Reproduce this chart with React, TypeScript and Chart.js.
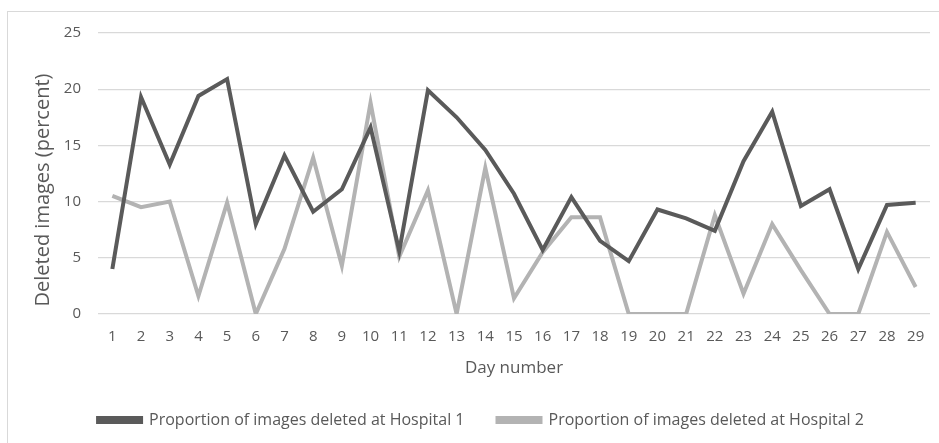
import React, { useEffect, useRef } from "react";
import { Chart, registerables } from "chart.js";

Chart.register(...registerables);

const days = ["1","2","3","4","5","6","7","8","9","10","11","12","13","14","15","16","17","18","19","20","21","22","23","24","25","26","27","28","29"];
const hospital1 = [4.0, 19.3, 13.3, 19.4, 20.9, 8.0, 14.1, 9.1, 11.1, 16.6, 5.6, 19.9, 17.5, 14.6, 10.7, 5.7, 10.4, 6.5, 4.7, 9.3, 8.5, 7.4, 13.6, 18.0, 9.6, 11.1, 4.0, 9.7, 9.9];
const hospital2 = [10.5, 9.5, 10.0, 1.6, 9.9, 0, 5.8, 13.9, 4.3, 18.8, 5.1, 11.0, 0, 13.0, 1.4, 5.5, 8.6, 8.6, 0, 0, 0, 8.8, 1.8, 8.0, 3.9, 0, 0, 7.3, 2.4];
const seriesNames = ["Proportion of images deleted at Hospital 1", "Proportion of images deleted at Hospital 2"];
const yTitle = "Deleted images (percent)";
const xTitle = "Day number";

const FONT = "'Open Sans', sans-serif";
const TEXT = "#595959";

const layoutTweaks = {
  id: "layoutTweaks",
  afterLayout(chart: any) {
    const lg = chart.legend;
    if (lg) {
      lg.left += 16;
      lg.right += 16;
    }
  },
  afterDraw(chart: any) {
    const ctx = chart.ctx;
    ctx.save();
    ctx.translate(43, 190);
    ctx.rotate(-Math.PI / 2);
    ctx.font = `20px ${FONT}`;
    ctx.fillStyle = TEXT;
    ctx.textAlign = "center";
    ctx.textBaseline = "middle";
    ctx.fillText(yTitle, 0, 0);
    ctx.restore();
  },
};

export default function App() {
  const ref = useRef<HTMLCanvasElement | null>(null);
  useEffect(() => {
    document.body.style.margin = "0";
    const ctx = ref.current!;
    const chart = new Chart(ctx, {
      type: "line",
      data: {
        labels: days,
        datasets: [
          { label: seriesNames[0], data: hospital1, borderColor: "#5a5a5a", backgroundColor: "#5a5a5a", borderWidth: 4, pointRadius: 0, tension: 0 },
          { label: seriesNames[1], data: hospital2, borderColor: "#b3b3b3", backgroundColor: "#b3b3b3", borderWidth: 4, pointRadius: 0, tension: 0 },
        ],
      },
      options: {
        animation: false,
        responsive: false,
        layout: { padding: { left: 0, right: 9, top: 33, bottom: 5 } },
        plugins: {
          tooltip: { enabled: false },
          legend: {
            position: "bottom",
            labels: { boxWidth: 43, boxHeight: 4, color: TEXT, font: { family: FONT, size: 16 }, padding: 33 },
          },
        },
        scales: {
          x: {
            offset: true,
            grid: { display: false },
            border: { display: false },
            ticks: { color: TEXT, font: { family: FONT, size: 15 }, padding: 6, maxRotation: 0, autoSkip: false },
            title: { display: true, text: xTitle, color: TEXT, font: { family: FONT, size: 17 }, padding: { top: 0, bottom: 1 } },
            afterFit: (s: any) => { s.height = 65; },
          },
          y: {
            min: 0,
            max: 25,
            grid: { color: "#d9d9d9", lineWidth: 1.3, drawTicks: false },
            border: { display: false },
            ticks: { stepSize: 5, color: TEXT, font: { family: FONT, size: 15 }, padding: 17 },
            title: { display: false, text: yTitle },
            afterFit: (s: any) => { s.width = 98; },
          },
        },
      },
      plugins: [layoutTweaks],
    });
    return () => chart.destroy();
  }, []);
  return (
    <div style={{ position: "relative", width: 939, height: 443, background: "#fff", overflow: "hidden" }}>
      <div style={{ position: "absolute", left: 7, top: 11, width: 1000, height: 500, border: "1px solid #d9d9d9" }} />
      <canvas ref={ref} width={939} height={443} style={{ position: "absolute", left: 0, top: 0 }} />
    </div>
  );
}
